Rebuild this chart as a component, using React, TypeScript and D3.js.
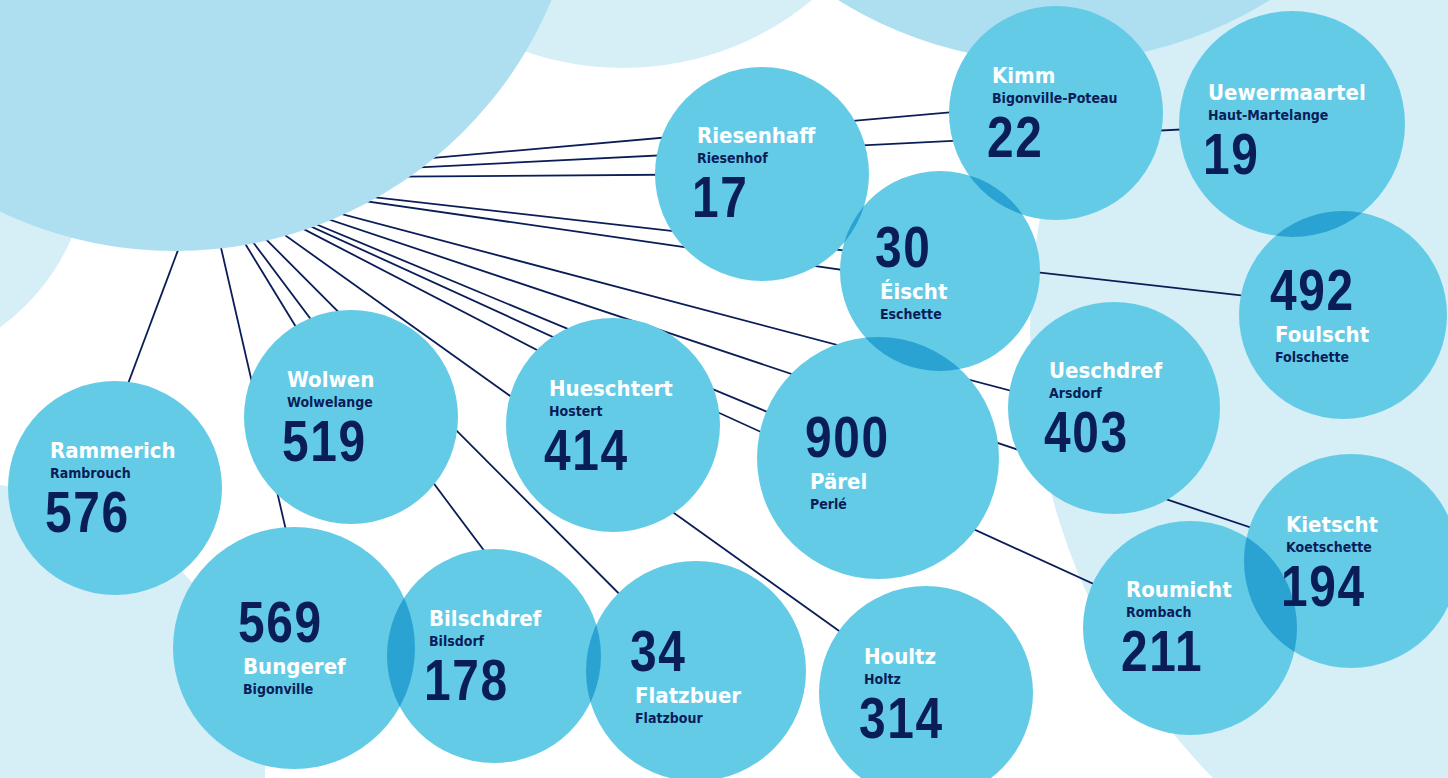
import React from "react";
import * as d3 from "d3";

// ---- data ----
const names = ["Rammerich","Wolwen","Bungeref","Bilschdref","Flatzbuer","Hueschtert","Houltz","Pärel","Roumicht","Kietscht","Ueschdref","Éischt","Foulscht","Riesenhaff","Kimm","Uewermaartel"];
const frenchNames = ["Rambrouch","Wolwelange","Bigonville","Bilsdorf","Flatzbour","Hostert","Holtz","Perlé","Rombach","Koetschette","Arsdorf","Eschette","Folschette","Riesenhof","Bigonville-Poteau","Haut-Martelange"];
const values = [576,519,569,178,34,414,314,900,211,194,403,30,492,17,22,19];
const numberFirst = [false,false,true,false,true,false,false,true,false,false,false,true,true,false,false,false];

// ---- layout (positions / sizes) ----
const layout = [
  { cx: 115, cy: 488, r: 107, tdx: -65, tdy: -30, ldx: -26, ldy: 0 },
  { cx: 351, cy: 417, r: 107, tdx: -64, tdy: -30, ldx: 0, ldy: 0 },
  { cx: 294, cy: 648, r: 121, tdx: -51, tdy: -6, ldx: 19, ldy: 0 },
  { cx: 494, cy: 656, r: 107, tdx: -65, tdy: -30, ldx: 69, ldy: 0 },
  { cx: 696, cy: 671, r: 110, tdx: -61, tdy: 0, ldx: 0, ldy: 0 },
  { cx: 613, cy: 425, r: 107, tdx: -64, tdy: -29, ldx: 69, ldy: 0 },
  { cx: 926, cy: 693, r: 107, tdx: -62, tdy: -29, ldx: 0, ldy: 0 },
  { cx: 878, cy: 458, r: 121, tdx: -68, tdy: -1, ldx: 0, ldy: 0 },
  { cx: 1190, cy: 628, r: 107, tdx: -64, tdy: -31, ldx: 0, ldy: 0 },
  { cx: 1351, cy: 561, r: 107, tdx: -65, tdy: -29, ldx: 0, ldy: 0 },
  { cx: 1114, cy: 408, r: 106, tdx: -65, tdy: -30, ldx: 0, ldy: 10 },
  { cx: 940, cy: 271, r: 100, tdx: -60, tdy: -4, ldx: 0, ldy: 13 },
  { cx: 1343, cy: 315, r: 104, tdx: -68, tdy: -5, ldx: 0, ldy: -8 },
  { cx: 762, cy: 174, r: 107, tdx: -65, tdy: -31, ldx: 0, ldy: 0 },
  { cx: 1056, cy: 113, r: 107, tdx: -64, tdy: -30, ldx: 0, ldy: -10 },
  { cx: 1292, cy: 124, r: 113, tdx: -84, tdy: -24, ldx: 0, ldy: 0 },
];

const hubOrigin = { x: 205, y: 178 };
const paleCircles = [
  { cx: 623, cy: -229, r: 297 },
  { cx: -130, cy: 150, r: 220 },
  { cx: -26, cy: 775, r: 291 },
  { cx: 1670, cy: 330, r: 640 },
];
const mediumCircles = [
  { cx: 175, cy: -157, r: 408 },
  { cx: 1054, cy: -345, r: 407 },
];

const W = 1448, H = 778;
const C_PALE = "#D6EEF6";
const C_MED = "#ADDFF1";
const C_BUBBLE = "#64CBE7";
const C_OVER = "#2AA3D3";
const C_NAVY = "#0A1D57";
const NAME_FONT = "'DejaVu Sans Condensed', 'DejaVu Sans', sans-serif";
const NUM_FONT = "'Liberation Sans', Arial, sans-serif";

export default function App() {
  const x = d3.scaleIdentity().domain([0, W]);
  const y = d3.scaleIdentity().domain([0, H]);
  const line = d3.line<[number, number]>().x((d) => x(d[0])).y((d) => y(d[1]));

  const nodes = names.map((n, i) => ({
    name: n,
    sub: frenchNames[i],
    value: values[i],
    numFirst: numberFirst[i],
    ...layout[i],
  }));

  const pairs: [number, number][] = [];
  for (let i = 0; i < nodes.length; i++)
    for (let j = i + 1; j < nodes.length; j++) {
      const a = nodes[i], b = nodes[j];
      if (Math.hypot(a.cx - b.cx, a.cy - b.cy) < a.r + b.r) pairs.push([i, j]);
    }

  return (
    <svg
      width={W}
      height={H}
      style={{ position: "fixed", left: 0, top: 0, background: "#fff" }}
    >
      <defs>
        {nodes.map((d, i) => (
          <clipPath id={`clip-${i}`} key={i}>
            <circle cx={x(d.cx)} cy={y(d.cy)} r={d.r} />
          </clipPath>
        ))}
      </defs>
      <rect x={0} y={0} width={W} height={H} fill="#fff" />
      {paleCircles.map((c, i) => (
        <circle key={`p${i}`} cx={x(c.cx)} cy={y(c.cy)} r={c.r} fill={C_PALE} />
      ))}
      <g>
        {nodes.map((d, i) => (
          <path
            key={`l${i}`}
            d={line([
              [hubOrigin.x, hubOrigin.y],
              [d.cx + d.ldx, d.cy + d.ldy],
            ]) || ""}
            stroke={C_NAVY}
            strokeWidth={1.8}
            fill="none"
          />
        ))}
      </g>
      {mediumCircles.map((c, i) => (
        <circle key={`m${i}`} cx={x(c.cx)} cy={y(c.cy)} r={c.r} fill={C_MED} />
      ))}
      {nodes.map((d, i) => (
        <circle key={`b${i}`} cx={x(d.cx)} cy={y(d.cy)} r={d.r} fill={C_BUBBLE} />
      ))}
      {pairs.map(([i, j]) => (
        <circle
          key={`o${i}-${j}`}
          cx={x(nodes[j].cx)}
          cy={y(nodes[j].cy)}
          r={nodes[j].r}
          fill={C_OVER}
          clipPath={`url(#clip-${i})`}
        />
      ))}
      {nodes.map((d, i) => {
        const tx = x(d.cx + d.tdx);
        const base = y(d.cy + d.tdy);
        const nameY = d.numFirst ? base + 32 : base;
        const subY = d.numFirst ? base + 52 : base + 20;
        const numY = d.numFirst ? base : base + 74;
        return (
          <g key={`t${i}`}>
            <text x={tx} y={nameY} fill="#fff" fontFamily={NAME_FONT} fontWeight="bold" fontSize={22} style={{ fontStretch: "condensed" }}>
              {d.name}
            </text>
            <text x={tx} y={subY} fill={C_NAVY} fontFamily={NAME_FONT} fontWeight="bold" fontSize={14} style={{ fontStretch: "condensed" }}>
              {d.sub}
            </text>
            <text
              transform={`translate(${tx - 5},${numY}) scale(0.84,1)`}
              fill={C_NAVY}
              fontFamily={NUM_FONT}
              fontWeight="bold"
              fontSize={57}
              letterSpacing={2}
            >
              {d.value}
            </text>
          </g>
        );
      })}
    </svg>
  );
}
